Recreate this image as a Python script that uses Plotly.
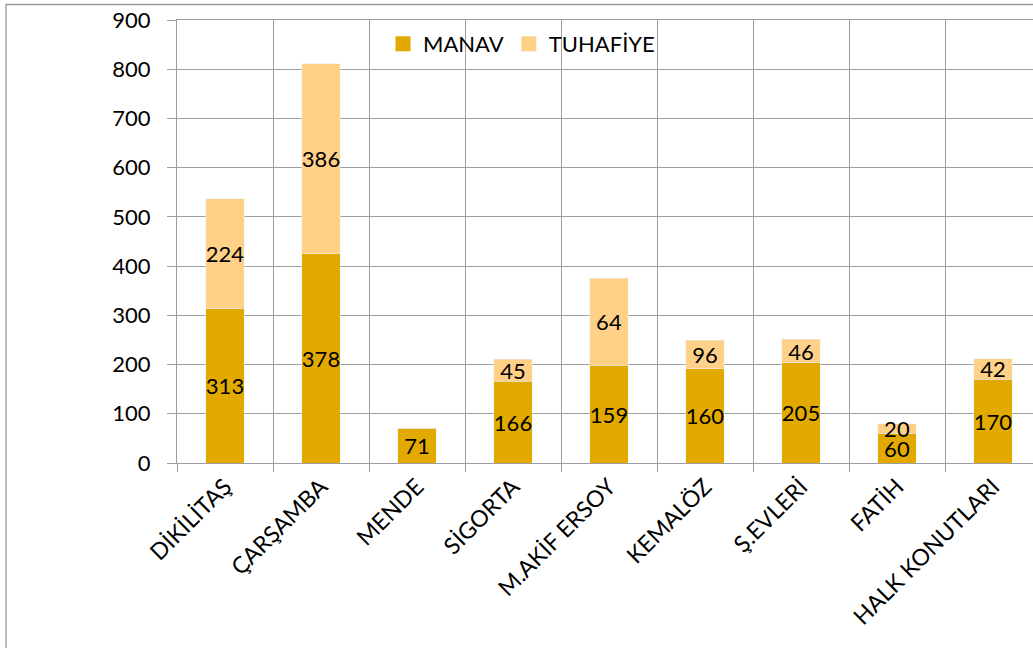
import plotly.graph_objects as go

categories = ["DİKİLİTAŞ", "ÇARŞAMBA", "MENDE", "SİGORTA", "M.AKİF ERSOY",
              "KEMALÖZ", "Ş.EVLERİ", "FATİH", "HALK KONUTLARI"]
# bar heights as drawn
manav = [313, 425, 71, 166, 199, 191, 204, 60, 170]
tuhafiye = [224, 386, 0, 45, 176, 58, 47, 20, 42]
# data labels as printed on the chart
manav_labels = ["313", "378", "71", "166", "159", "160", "205", "60", "170"]
tuhafiye_labels = ["224", "386", "", "45", "64", "96", "46", "20", "42"]
y_ticks = [0, 100, 200, 300, 400, 500, 600, 700, 800, 900]

C_MANAV = "#E2AA00"
C_TUH = "#FFD088"
GRID = "#9E9E9E"
FONT = "Lato"

x = list(range(len(categories)))

fig = go.Figure()
fig.add_trace(go.Bar(
    x=x, y=manav, name="MANAV", marker_color=C_MANAV,
    text=manav_labels, textposition="inside", insidetextanchor="middle",
    textangle=0, textfont=dict(family=FONT, size=22, color="#000000"),
    showlegend=False, cliponaxis=False,
))
fig.add_trace(go.Bar(
    x=x, y=tuhafiye, name="TUHAFİYE", marker_color=C_TUH,
    text=tuhafiye_labels, textposition="inside", insidetextanchor="middle",
    textangle=0, textfont=dict(family=FONT, size=22, color="#000000"),
    showlegend=False, cliponaxis=False,
))
# legend entries with square swatches
for nm, col in [("MANAV", C_MANAV), ("TUHAFİYE", C_TUH)]:
    fig.add_trace(go.Scatter(
        x=[None], y=[None], mode="markers", name=nm,
        marker=dict(symbol="square", size=15, color=col),
    ))

W, H = 1033, 648
L, T = 177, 20
B = H - 463
plot_w = W - L
plot_h = H - T - B
right_cat = -0.5 + plot_w / 96.0

fig.update_layout(
    width=W, height=H,
    margin=dict(l=L, r=0, t=T, b=B, pad=0),
    barmode="stack", bargap=0.6,
    paper_bgcolor="white", plot_bgcolor="white",
    font=dict(family=FONT, size=22, color="#000000"),
    uniformtext=dict(minsize=22, mode="show"),
    legend=dict(
        orientation="h", traceorder="normal",
        x=(383 - L) / plot_w, xanchor="left",
        y=1 - (44 - T) / plot_h, yanchor="middle",
        font=dict(family=FONT, size=22, color="#000000"),
        bgcolor="rgba(0,0,0,0)", itemclick=False, tracegroupgap=0,
    ),
    xaxis=dict(
        range=[-0.5, right_cat], tickmode="array", tickvals=x, ticktext=categories,
        tickangle=-45, showgrid=False, zeroline=False,
        showline=True, mirror=True, linecolor=GRID, linewidth=1.3,
        ticks="", tickfont=dict(family=FONT, size=23, color="#000000"),
        automargin=False,
        minor=dict(tickmode="array", tickvals=[i - 0.5 for i in range(len(categories) + 1)],
                   showgrid=True, gridcolor=GRID, gridwidth=1.3,
                   ticks="outside", ticklen=8, tickcolor=GRID, tickwidth=1.3),
        fixedrange=True,
    ),
    yaxis=dict(
        range=[0, 900], tickmode="array", tickvals=y_ticks,
        showgrid=True, gridcolor=GRID, gridwidth=1.3,
        zeroline=False, showline=True, linecolor=GRID, linewidth=1.3,
        ticks="outside", ticklen=9, tickcolor=GRID, tickwidth=1.3,
        tickfont=dict(family=FONT, size=22, color="#000000"),
        ticklabelstandoff=12, automargin=False,
        fixedrange=True,
    ),
    shapes=[dict(
        type="rect", xref="paper", yref="paper",
        x0=(6 - L) / plot_w, x1=1.2,
        y0=-0.6, y1=1 + (T - 4.5) / plot_h,
        line=dict(color="#9A9A9A", width=1.3), fillcolor="rgba(0,0,0,0)", layer="below",
    )],
)

fig.write_html(
    "out.html",
    config={"displayModeBar": False},
    post_script="document.body.style.margin='0';document.body.style.overflow='hidden';",
)
